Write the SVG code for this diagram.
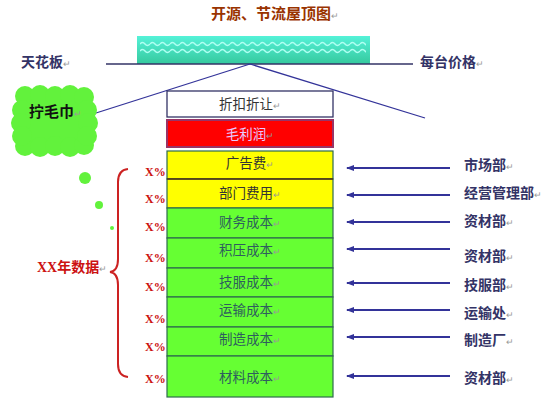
<svg xmlns="http://www.w3.org/2000/svg" width="556" height="408" viewBox="0 0 556 408">
<style>
.cjk{font-family:"Noto Sans CJK SC","Noto Sans",sans-serif}
.title{font-size:15px;font-weight:bold;fill:#993300}
.nav{font-size:14px;font-weight:bold;fill:#333366}
.box{font-size:13.5px;fill:#333333;text-anchor:middle}
.gbox{font-size:13.5px;fill:#2E5E5E;text-anchor:middle}
.pct{font-family:"Liberation Serif",serif;font-size:12px;font-weight:bold;fill:#CC1111}
.pm{font-size:9px;fill:#999999;font-weight:normal}
.row{stroke:#2E6B4E;stroke-width:1.2}
.arr{stroke:#333399;stroke-width:2;marker-end:url(#ah)}
</style>
<defs>
<marker id="ah" markerWidth="8" markerHeight="6" refX="7" refY="3" orient="auto" markerUnits="userSpaceOnUse">
<path d="M0,0 L8,3 L0,6 Z" fill="#333399"/>
</marker>
<linearGradient id="roofg" x1="0" y1="0" x2="0" y2="1">
<stop offset="0" stop-color="#55F2D8"/>
<stop offset="1" stop-color="#35C99E"/>
</linearGradient>
<pattern id="wave" x="140" y="40" width="10" height="16" patternUnits="userSpaceOnUse">
<path d="M0,4 Q2.5,1 5,4 T10,4 M0,11 Q2.5,8 5,11 T10,11" fill="none" stroke="#B0FFF2" stroke-width="1.5"/>
</pattern>
</defs>

<g id="title">
<text class="cjk title" x="211" y="19">开源、节流屋顶图<tspan class="pm">↵</tspan></text>
</g>

<g id="roof">
<rect x="137" y="36" width="233" height="28" fill="url(#roofg)"/>
<rect x="140" y="40" width="226" height="15" fill="url(#wave)"/>
</g>

<g id="connectors">
<line x1="106" y1="64" x2="413" y2="64" stroke="#333366" stroke-width="1.3"/>
<line x1="250" y1="64" x2="96" y2="113" stroke="#333399" stroke-width="1.3"/>
<line x1="250" y1="64" x2="425" y2="118" stroke="#333399" stroke-width="1.3"/>
<line class="arr" x1="450" y1="168" x2="347" y2="168"/>
<line class="arr" x1="450" y1="195" x2="347" y2="195"/>
<line class="arr" x1="450" y1="222" x2="347" y2="222"/>
<line class="arr" x1="450" y1="249" x2="347" y2="249"/>
<line class="arr" x1="450" y1="283" x2="347" y2="283"/>
<line class="arr" x1="450" y1="310" x2="347" y2="310"/>
<line class="arr" x1="450" y1="337" x2="347" y2="337"/>
<line class="arr" x1="450" y1="376" x2="347" y2="376"/>
<path d="M128,169 Q118,170 118,182 L118,259 Q118,271 110,272 Q118,273 118,285 L118,364 Q118,376 128,377" fill="none" stroke="#CC2222" stroke-width="2"/>
</g>

<g id="ceiling-label"><text class="cjk nav" x="21" y="67">天花板<tspan class="pm">↵</tspan></text></g>
<g id="price-label"><text class="cjk nav" x="420" y="67">每台价格<tspan class="pm">↵</tspan></text></g>

<g id="cloud">
<g fill="#62F23C">
<rect x="22" y="94" width="66" height="54"/>
<circle cx="25" cy="96" r="10"/><circle cx="40" cy="95" r="10"/><circle cx="55" cy="96" r="10"/><circle cx="70" cy="95" r="10"/><circle cx="84" cy="97" r="10"/>
<circle cx="25" cy="146" r="10"/><circle cx="40" cy="147" r="10"/><circle cx="55" cy="146" r="10"/><circle cx="70" cy="147" r="10"/><circle cx="84" cy="145" r="10"/>
<circle cx="22" cy="110" r="10"/><circle cx="21" cy="123" r="10"/><circle cx="22" cy="136" r="10"/>
<circle cx="87" cy="110" r="10"/><circle cx="88" cy="123" r="10"/><circle cx="87" cy="136" r="10"/>
<circle cx="85" cy="178" r="6"/>
<circle cx="99" cy="205" r="4"/>
<circle cx="112" cy="228" r="2"/>
</g>
<text class="cjk" x="29" y="117" font-size="15" font-weight="bold" fill="#111111">拧毛巾<tspan class="pm">↵</tspan></text>
</g>

<g id="discount">
<rect x="167" y="91" width="166" height="26" fill="#FFFFFF" stroke="#333366" stroke-width="1.3"/>
<text class="cjk box" x="250" y="109">折扣折让<tspan class="pm">↵</tspan></text>
</g>

<g id="gross-profit">
<rect x="167" y="120" width="166" height="27" fill="#FF0000" stroke="#993366" stroke-width="2"/>
<text class="cjk" x="250" y="139" font-size="13.5" fill="#E8C8FF" text-anchor="middle">毛利润<tspan class="pm">↵</tspan></text>
</g>

<g id="ad">
<rect class="row" x="167" y="151" width="166" height="28" fill="#FFFF00"/>
<text class="cjk box" x="250" y="168">广告费<tspan class="pm">↵</tspan></text>
</g>
<g id="dept">
<rect class="row" x="167" y="179" width="166" height="29" fill="#FFFF00"/>
<line x1="167" y1="179" x2="333" y2="179" stroke="#553311" stroke-width="1.6"/>
<text class="cjk box" x="250" y="198">部门费用<tspan class="pm">↵</tspan></text>
</g>
<g id="finance">
<rect class="row" x="167" y="208" width="166" height="30" fill="#66FF33"/>
<text class="cjk gbox" x="250" y="227">财务成本<tspan class="pm">↵</tspan></text>
</g>
<g id="stock">
<rect class="row" x="167" y="238" width="166" height="30" fill="#66FF33"/>
<text class="cjk gbox" x="250" y="255">积压成本<tspan class="pm">↵</tspan></text>
</g>
<g id="service">
<rect class="row" x="167" y="268" width="166" height="29" fill="#66FF33"/>
<text class="cjk gbox" x="250" y="287">技服成本<tspan class="pm">↵</tspan></text>
</g>
<g id="transport">
<rect class="row" x="167" y="297" width="166" height="30" fill="#66FF33"/>
<text class="cjk gbox" x="250" y="315">运输成本<tspan class="pm">↵</tspan></text>
</g>
<g id="manufacture">
<rect class="row" x="167" y="327" width="166" height="29" fill="#66FF33"/>
<text class="cjk gbox" x="250" y="344">制造成本<tspan class="pm">↵</tspan></text>
</g>
<g id="material">
<rect class="row" x="167" y="356" width="166" height="41" fill="#66FF33"/>
<text class="cjk gbox" x="250" y="382">材料成本<tspan class="pm">↵</tspan></text>
</g>

<g id="percents">
<text class="pct" x="145" y="176">X%</text>
<text class="pct" x="145" y="203">X%</text>
<text class="pct" x="145" y="231">X%</text>
<text class="pct" x="145" y="262">X%</text>
<text class="pct" x="145" y="291">X%</text>
<text class="pct" x="145" y="323">X%</text>
<text class="pct" x="145" y="351">X%</text>
<text class="pct" x="145" y="383">X%</text>
</g>

<g id="year-data">
<text x="37" y="272" font-size="14" font-weight="bold" fill="#CC1111"><tspan font-family="Liberation Serif,serif">XX</tspan><tspan font-family="Noto Sans CJK SC,sans-serif">年数据</tspan><tspan class="pm" font-family="Noto Sans CJK SC,sans-serif">↵</tspan></text>
</g>

<g id="departments">
<text class="cjk nav" x="464" y="170">市场部<tspan class="pm">↵</tspan></text>
<text class="cjk nav" x="464" y="198">经营管理部<tspan class="pm">↵</tspan></text>
<text class="cjk nav" x="464" y="226">资材部<tspan class="pm">↵</tspan></text>
<text class="cjk nav" x="464" y="261">资材部<tspan class="pm">↵</tspan></text>
<text class="cjk nav" x="464" y="290">技服部<tspan class="pm">↵</tspan></text>
<text class="cjk nav" x="464" y="318">运输处<tspan class="pm">↵</tspan></text>
<text class="cjk nav" x="464" y="345">制造厂<tspan class="pm">↵</tspan></text>
<text class="cjk nav" x="464" y="383">资材部<tspan class="pm">↵</tspan></text>
</g>
</svg>
